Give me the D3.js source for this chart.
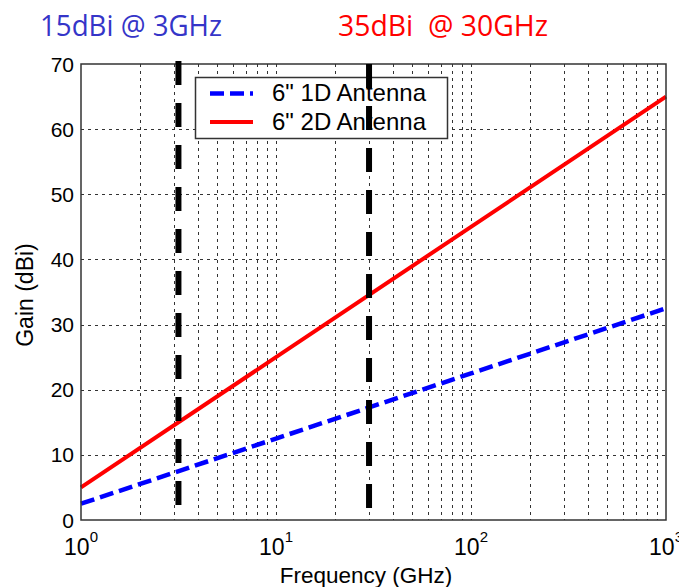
<!DOCTYPE html>
<html>
<head>
<meta charset="utf-8">
<script src="https://cdn.jsdelivr.net/npm/d3@7"></script>
<style>
body { margin: 0; background: #fff; }
svg { display: block; }
</style>
</head>
<body>
<svg id="chart"></svg>
<script>
// values
const freqGHz = [1, 10, 100, 1000];
const gain1D = [2.5, 12.5, 22.5, 32.5];
const gain2D = [5, 25, 45, 65];
const markerFreqs = [3.16, 30];
const yTicks = [0, 10, 20, 30, 40, 50, 60, 70];
const xDecades = [1, 10, 100, 1000];
const seriesNames = ['6" 1D Antenna', '6" 2D Antenna'];
const notes = ['15dBi @ 3GHz', '35dBi  @ 30GHz'];

const width = 679, height = 587;
const plot = {left: 81, right: 666, top: 64, bottom: 520};

const svg = d3.select('#chart')
    .attr('width', width)
    .attr('height', height);

const x = d3.scaleLog().domain([1, 1000]).range([plot.left, plot.right]);
const y = d3.scaleLinear().domain([0, 70]).range([plot.bottom, plot.top]);

// grid
let gridG = svg.append('g').attr('id', 'grid')
    .attr('stroke', '#333')
    .attr('stroke-width', 1)
    .attr('stroke-dasharray', '3,4');

gridG.selectAll('line.vx')
    .data(x.ticks().filter(t => t > 1 && t < 1000))
    .join('line')
    .attr('class', 'vx')
    .attr('x1', d => Math.round(x(d)) + 0.5)
    .attr('x2', d => Math.round(x(d)) + 0.5)
    .attr('y1', plot.top)
    .attr('y2', plot.bottom);

gridG.selectAll('line.hy')
    .data(yTicks.filter(t => t > 0 && t < 70))
    .join('line')
    .attr('class', 'hy')
    .attr('x1', plot.left)
    .attr('x2', plot.right)
    .attr('y1', d => Math.round(y(d)) + 0.5)
    .attr('y2', d => Math.round(y(d)) + 0.5);

// series
const line = d3.line()
    .x(d => x(d[0]))
    .y(d => y(d[1]));

svg.append('path')
    .datum(freqGHz.map((f, i) => [f, gain2D[i]]))
    .attr('d', line)
    .attr('fill', 'none')
    .attr('stroke', '#ff0000')
    .attr('stroke-width', 4);

svg.append('path')
    .datum(freqGHz.map((f, i) => [f, gain1D[i]]))
    .attr('d', line)
    .attr('fill', 'none')
    .attr('stroke', '#0000ff')
    .attr('stroke-width', 4.5)
    .attr('stroke-dasharray', '14,6');

// axes box
svg.append('rect')
    .attr('x', plot.left)
    .attr('y', plot.top)
    .attr('width', plot.right - plot.left)
    .attr('height', plot.bottom - plot.top)
    .attr('fill', 'none')
    .attr('stroke', '#333')
    .attr('stroke-width', 1.5);

// tick labels
svg.append('g')
    .selectAll('text')
    .data(yTicks)
    .join('text')
    .attr('x', 74)
    .attr('y', d => y(d))
    .attr('dy', '0.36em')
    .attr('text-anchor', 'end')
    .style('font', '21px "Liberation Sans", Arial, sans-serif')
    .text(d => d);

// the last label is cut by the right edge, as in the source picture
let xLab = svg.append('g')
    .selectAll('text')
    .data(xDecades)
    .join('text')
    .attr('x', d => x(d))
    .attr('y', 555)
    .attr('text-anchor', 'middle')
    .style('font', '23px "Liberation Sans", Arial, sans-serif');
xLab.append('tspan').text('10');
xLab.append('tspan')
    .attr('dy', -13)
    .style('font-size', '15px')
    .text(d => Math.round(Math.log10(d)));

svg.append('text')
    .attr('x', 366)
    .attr('y', 583)
    .attr('text-anchor', 'middle')
    .style('font', '22.5px "Liberation Sans", Arial, sans-serif')
    .text('Frequency (GHz)');

svg.append('text')
    .attr('transform', 'translate(33,295) rotate(-90)')
    .attr('text-anchor', 'middle')
    .style('font', '23px "Liberation Sans", Arial, sans-serif')
    .text('Gain (dBi)');

// legend
let legG = svg.append('g').attr('id', 'legend');
legG.append('rect')
    .attr('x', 195.5)
    .attr('y', 77.5)
    .attr('width', 252)
    .attr('height', 61)
    .attr('fill', '#fff')
    .attr('stroke', '#333')
    .attr('stroke-width', 1.5);

const legStyles = [
    {color: '#0000ff', dash: '14,6', w: 4.5},
    {color: '#ff0000', dash: null, w: 4}
];
seriesNames.forEach((name, i) => {
    const ly = 93.5 + i * 28.5;
    legG.append('line')
        .attr('x1', 210).attr('x2', 253)
        .attr('y1', ly).attr('y2', ly)
        .attr('stroke', legStyles[i].color)
        .attr('stroke-width', legStyles[i].w)
        .attr('stroke-dasharray', legStyles[i].dash);
    legG.append('text')
        .attr('x', 272)
        .attr('y', ly + 7.5)
        .style('font', '24px "Liberation Sans", Arial, sans-serif')
        .text(name);
});

// thick marker lines at the two frequencies
svg.append('g')
    .selectAll('line')
    .data(markerFreqs)
    .join('line')
    .attr('x1', d => x(d))
    .attr('x2', d => x(d))
    .attr('y1', (d, i) => i === 0 ? 61 : 64)
    .attr('y2', plot.bottom)
    .attr('stroke', '#000')
    .attr('stroke-width', 6)
    .attr('stroke-dasharray', '24,18');

// notes on top
const noteColors = ['#3535c8', '#ff0000'];
const noteX = [40, 338];
const noteLen = [182, 210];
notes.forEach((t, i) => {
    svg.append('text')
        .attr('x', noteX[i])
        .attr('y', 36)
        .attr('textLength', noteLen[i])
        .attr('lengthAdjust', 'spacingAndGlyphs')
        .style('white-space', 'pre')
        .style('font', '30px "Open Sans", sans-serif')
        .attr('fill', noteColors[i])
        .text(t);
});
</script>
</body>
</html>
